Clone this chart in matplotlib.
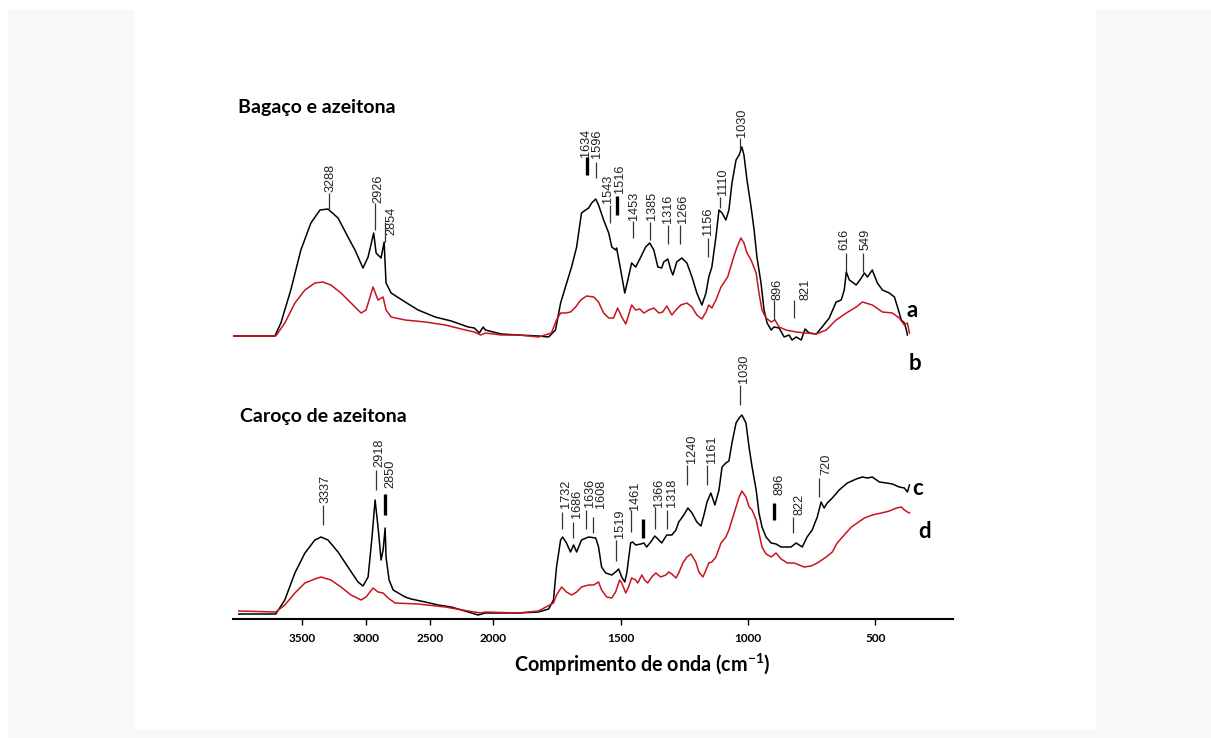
import numpy as np
import matplotlib
matplotlib.use("Agg")
import matplotlib.pyplot as plt
from matplotlib.patches import Rectangle

plt.rcParams['font.family'] = ['Lato', 'DejaVu Sans']
plt.rcParams['mathtext.fontset'] = 'custom'
plt.rcParams['mathtext.rm'] = 'Lato'
plt.rcParams['mathtext.bf'] = 'Lato:bold'

# spectra: (wavenumber cm-1, absorbance a.u. with offsets)
spec_a = [(4040, 283), (3716, 283), (3669, 296), (3591, 329), (3512, 369), (3433, 396),
          (3362, 409), (3299, 410), (3220, 401), (3142, 382), (3087, 369), (3024, 351),
          (2984, 362), (2940, 386), (2921, 366), (2882, 361), (2858, 377), (2843, 336),
          (2803, 326), (2693, 317), (2591, 309), (2457, 302), (2331, 298), (2197, 292),
          (2150, 291), (2110, 286), (2080, 292), (2063, 289), (1969, 285), (1902, 284),
          (1823, 283), (1783, 282), (1756, 289), (1736, 316), (1717, 332), (1693, 352),
          (1673, 372), (1654, 406), (1638, 409), (1626, 411), (1614, 416), (1598, 420),
          (1587, 414), (1567, 399), (1547, 386), (1535, 372), (1520, 369), (1516, 371),
          (1500, 349), (1484, 326), (1472, 339), (1457, 356), (1441, 352), (1421, 362),
          (1402, 372), (1386, 376), (1370, 369), (1354, 352), (1339, 351), (1331, 357),
          (1315, 360), (1303, 349), (1295, 344), (1280, 357), (1260, 361), (1240, 356),
          (1220, 342), (1201, 326), (1181, 314), (1165, 326), (1154, 342), (1142, 352),
          (1126, 382), (1114, 409), (1102, 406), (1087, 399), (1075, 409), (1063, 436),
          (1047, 459), (1035, 464), (1024, 472), (1016, 464), (1004, 439), (988, 412),
          (976, 389), (965, 362), (949, 336), (937, 309), (925, 296), (909, 289),
          (898, 292), (878, 291), (858, 282), (839, 284), (827, 279), (811, 282),
          (791, 279), (776, 290), (760, 286), (732, 285), (709, 292), (681, 301),
          (654, 317), (634, 319), (622, 329), (614, 347), (602, 339), (575, 334),
          (555, 341), (543, 346), (531, 342), (512, 349), (492, 336), (472, 329),
          (445, 326), (425, 322), (413, 312), (398, 299), (386, 296), (378, 289), (374, 284)]

spec_b = [(4040, 283), (3709, 283), (3638, 296), (3559, 316), (3480, 329), (3402, 336),
          (3339, 337), (3276, 334), (3197, 326), (3118, 316), (3039, 306), (3000, 309),
          (2945, 332), (2906, 319), (2866, 322), (2843, 309), (2803, 302), (2693, 299),
          (2535, 297), (2378, 294), (2220, 289), (2150, 287), (2100, 284), (2063, 286),
          (1969, 284), (1902, 284), (1823, 282), (1772, 286), (1752, 299), (1736, 306),
          (1717, 306), (1697, 307), (1677, 312), (1657, 319), (1634, 323), (1606, 322),
          (1587, 317), (1567, 306), (1547, 301), (1528, 301), (1512, 311), (1496, 302),
          (1480, 295), (1469, 304), (1457, 314), (1441, 309), (1425, 310), (1409, 306),
          (1390, 309), (1370, 311), (1350, 306), (1335, 307), (1319, 313), (1299, 304),
          (1283, 309), (1264, 314), (1240, 316), (1220, 312), (1201, 304), (1181, 300),
          (1165, 307), (1154, 314), (1142, 311), (1126, 319), (1106, 332), (1080, 342),
          (1055, 363), (1043, 372), (1028, 381), (1016, 376), (1004, 366), (988, 359),
          (968, 346), (957, 326), (945, 309), (929, 301), (909, 297), (894, 299),
          (878, 292), (851, 289), (811, 287), (772, 286), (732, 285), (693, 289),
          (654, 299), (614, 306), (575, 312), (551, 317), (512, 314), (472, 307),
          (433, 306), (406, 301), (386, 294), (374, 296), (366, 286)]

spec_c = [(4000, 5), (3709, 5), (3638, 19), (3559, 46), (3480, 66), (3402, 79), (3354, 82),
          (3299, 79), (3220, 67), (3142, 52), (3063, 37), (3024, 33), (2984, 42), (2953, 82),
          (2929, 119), (2906, 92), (2882, 59), (2866, 69), (2850, 91), (2843, 62), (2819, 39),
          (2787, 29), (2693, 22), (2646, 20), (2535, 17), (2433, 14), (2331, 12), (2197, 7),
          (2120, 4), (2063, 6), (1969, 6), (1902, 6), (1823, 7), (1783, 10), (1764, 19),
          (1752, 52), (1736, 79), (1728, 82), (1713, 76), (1697, 67), (1685, 74), (1673, 67),
          (1654, 79), (1626, 82), (1598, 81), (1587, 72), (1575, 52), (1559, 46), (1535, 44),
          (1520, 47), (1508, 50), (1496, 42), (1484, 37), (1476, 46), (1461, 76), (1453, 77),
          (1441, 74), (1421, 75), (1409, 76), (1398, 72), (1382, 77), (1366, 83), (1350, 79),
          (1339, 76), (1319, 84), (1299, 84), (1283, 89), (1272, 97), (1252, 104), (1236, 111),
          (1220, 106), (1201, 97), (1185, 93), (1173, 104), (1161, 117), (1146, 126),
          (1130, 114), (1114, 129), (1102, 152), (1087, 156), (1075, 158), (1063, 176),
          (1047, 196), (1035, 201), (1024, 204), (1008, 196), (996, 172), (984, 152),
          (968, 129), (957, 106), (945, 92), (929, 82), (909, 76), (890, 75), (870, 72),
          (850, 72), (831, 72), (811, 76), (799, 74), (787, 72), (768, 82), (748, 89),
          (728, 102), (713, 117), (701, 111), (689, 116), (669, 121), (642, 129), (610, 136),
          (575, 140), (551, 142), (531, 141), (512, 142), (484, 137), (457, 136), (433, 135),
          (406, 132), (386, 131), (374, 127), (366, 134)]

spec_d = [(4000, 8), (3709, 7), (3638, 14), (3559, 26), (3480, 36), (3402, 40), (3354, 42),
          (3276, 39), (3197, 32), (3118, 24), (3039, 19), (3000, 22), (2945, 31), (2906, 27),
          (2866, 26), (2827, 21), (2772, 16), (2591, 15), (2378, 12), (2197, 8), (2100, 6),
          (2063, 7), (1902, 6), (1823, 8), (1764, 16), (1752, 24), (1732, 32), (1713, 27),
          (1693, 24), (1673, 27), (1654, 32), (1626, 34), (1606, 34), (1587, 37), (1575, 29),
          (1555, 22), (1535, 21), (1520, 27), (1504, 39), (1496, 36), (1480, 26), (1469, 32),
          (1457, 41), (1441, 39), (1433, 36), (1417, 44), (1406, 39), (1394, 36), (1378, 42),
          (1362, 46), (1343, 42), (1323, 44), (1311, 47), (1299, 45), (1283, 41), (1272, 46),
          (1256, 56), (1240, 62), (1224, 65), (1205, 57), (1193, 47), (1177, 42), (1165, 49),
          (1154, 56), (1142, 57), (1126, 62), (1106, 76), (1087, 82), (1075, 89), (1063, 99),
          (1047, 112), (1035, 122), (1024, 128), (1008, 122), (996, 112), (984, 109),
          (968, 99), (957, 86), (945, 72), (929, 65), (909, 62), (890, 66), (870, 60),
          (846, 56), (819, 56), (799, 54), (780, 52), (752, 53), (728, 56), (693, 62),
          (669, 67), (650, 76), (622, 84), (594, 92), (571, 96), (543, 101), (512, 104),
          (476, 106), (445, 108), (417, 111), (398, 112), (386, 109), (374, 107), (366, 106)]

# peak marks: (text, line wavenumber, line bottom, line top, text x, text bottom, thick line)
peaks_top = [("3288", 3288, 410, 426, 3280, 427, False), ("2926", 2926, 389, 416, 2902, 416, False),
             ("2854", 2854, 377, 397, 2803, 384, False), ("1634", 1634, 444, 462, 1638, 462, True),
             ("1596", 1596, 441, 457, 1594, 461, False), ("1543", 1543, 396, 414, 1549, 416, False),
             ("1516", 1516, 404, 423, 1502, 426, True), ("1453", 1453, 381, 398, 1447, 399, False),
             ("1385", 1385, 379, 397, 1376, 399, False), ("1316", 1316, 375, 394, 1313, 396, False),
             ("1266", 1266, 375, 394, 1254, 396, False), ("1156", 1156, 362, 381, 1156, 384, False),
             ("1110", 1110, 411, 422, 1098, 424, False), ("1030", 1030, 469, 481, 1022, 482, False),
             ("896", 896, 299, 319, 886, 319, False), ("821", 821, 301, 319, 776, 319, False),
             ("616", 616, 347, 366, 620, 369, False), ("549", 549, 347, 366, 539, 369, False)]

peaks_bot = [("3337", 3337, 94, 114, 3315, 116, False), ("2918", 2918, 129, 149, 2894, 152, False),
             ("2850", 2850, 104, 125, 2811, 131, True), ("1732", 1732, 90, 107, 1715, 111, False),
             ("1686", 1686, 81, 97, 1673, 101, False), ("1636", 1636, 90, 109, 1622, 112, False),
             ("1608", 1608, 86, 102, 1578, 111, False), ("1519", 1519, 58, 79, 1504, 81, False),
             ("1461", 1461, 87, 109, 1443, 109, False), ("", 1413, 81, 100, 1413, 100, True),
             ("1366", 1366, 90, 112, 1350, 112, False), ("1318", 1318, 90, 109, 1299, 112, False),
             ("1240", 1240, 134, 154, 1220, 156, False), ("1161", 1161, 134, 154, 1142, 156, False),
             ("1030", 1030, 214, 234, 1016, 236, False), ("896", 896, 99, 116, 878, 124, True),
             ("822", 822, 86, 102, 799, 104, False), ("720", 720, 122, 141, 693, 144, False)]

tick_wn = [3500, 3000, 2500, 2000, 1500, 1000, 500]


def fwd(w):
    w = np.asarray(w, dtype=float)
    return np.where(w > 2000, 2000 + (w - 2000) / 2, w)


def inv(t):
    t = np.asarray(t, dtype=float)
    return np.where(t > 2000, 2000 + (t - 2000) * 2, t)


fig = plt.figure(figsize=(12.11, 7.38), dpi=100)
fig.patch.set_facecolor('white')
fig.patches.append(Rectangle((8 / 1211, 0), 1203 / 1211, 728 / 738, transform=fig.transFigure,
                             facecolor='#f7f8fa', edgecolor='none', zorder=-10))
fig.patches.append(Rectangle((135 / 1211, 8 / 738), 961 / 1211, 730 / 738, transform=fig.transFigure,
                             facecolor='white', edgecolor='none', zorder=-9))

ax = fig.add_axes([233 / 1211, 119 / 738, 720 / 1211, 529 / 738])
ax.set_facecolor('none')
ax.set_xscale('function', functions=(fwd, inv))
ax.set_xlim(4045, 195)
ax.set_ylim(0, 529)

for spec, col in [(spec_a, 'black'), (spec_b, '#c8141e'), (spec_c, 'black'), (spec_d, '#c8141e')]:
    arr = np.array(spec).T
    ax.plot(arr[0], arr[1], color=col, lw=1.1, zorder=3)

for label, w, y0, y1, wt, yt, thick in peaks_top + peaks_bot:
    ax.plot([w, w], [y0, y1], color='black' if thick else '#333333',
            lw=2.4 if thick else 0.9, solid_capstyle='butt', zorder=4)
    if label:
        ax.text(wt, yt, label, rotation=90, ha='center', va='bottom', fontsize=9.2,
                family='Liberation Sans', color='#222222')

ax.text(4008, 506, "Bagaço e azeitona", fontsize=14, fontweight='bold', va='baseline', ha='left')
ax.text(3992, 197, "Caroço de azeitona", fontsize=14, fontweight='bold', va='baseline', ha='left')

for letter, w, h in [("a", 354, 309), ("b", 346, 256), ("c", 335, 131), ("d", 307, 88)]:
    ax.text(w, h, letter, fontsize=16, fontweight='bold', ha='center', va='center')

for s in ['left', 'top', 'right']:
    ax.spines[s].set_visible(False)
ax.spines['bottom'].set_linewidth(1.5)
ax.set_yticks([])
ax.set_xticks(tick_wn)
ax.set_xticklabels([str(t) for t in tick_wn], fontsize=8.5, fontweight='bold')
ax.xaxis.set_minor_locator(matplotlib.ticker.NullLocator())
ax.tick_params(axis='x', direction='out', length=4, width=1, pad=6)

fig.text(642 / 1211, 1 - 665 / 738, r"Comprimento de onda (cm$^{\mathbf{-1}}$)",
         fontsize=14.2, fontweight='bold', ha='center', va='center')

fig.savefig("out.png", dpi=100)
